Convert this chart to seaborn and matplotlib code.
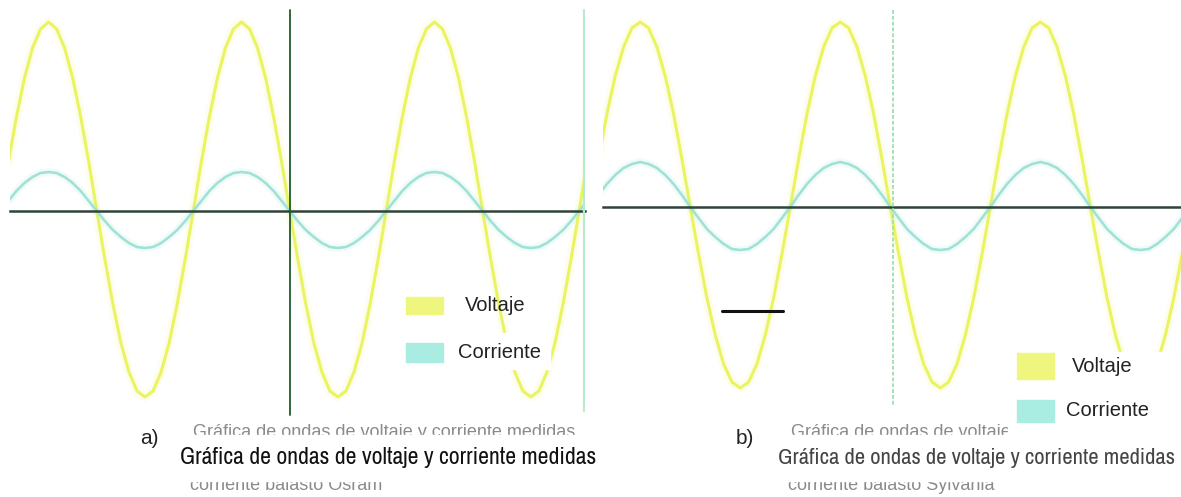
import matplotlib
matplotlib.use("Agg")
import matplotlib.pyplot as plt
from matplotlib import font_manager
from matplotlib.patches import Rectangle
from matplotlib.ticker import MultipleLocator
import seaborn as sns

# Phase grid (degrees) and wave readings (screen units, 0 = axis line)
fase_a = list(range(15, 1096, 15))
voltaje_a = [49, 94, 133, 163, 182, 189, 182, 163, 133, 94, 49, 0, -48, -93, -132, -161, -180, -186, -180, -161, -132, -93, -48, 0,
             49, 94, 133, 163, 182, 189, 182, 163, 133, 94, 49, 0, -48, -93, -132, -161, -180, -186, -180, -161, -132, -93, -48, 0,
             49, 94, 133, 163, 182, 189, 182, 163, 133, 94, 49, 0, -48, -93, -132, -161, -180, -186, -180, -161, -132, -93, -48, 0,
             49]
corriente_a = [10, 20, 28, 34, 38, 39, 38, 34, 28, 20, 10, 0, -10, -19, -26, -32, -36, -37, -36, -32, -26, -19, -10, 0,
               10, 20, 28, 34, 38, 39, 38, 34, 28, 20, 10, 0, -10, -19, -26, -32, -36, -37, -36, -32, -26, -19, -10, 0,
               10, 20, 28, 34, 38, 39, 38, 34, 28, 20, 10, 0, -10, -19, -26, -32, -36, -37, -36, -32, -26, -19, -10, 0,
               10]

fase_b = list(range(15, 1066, 15))
voltaje_b = [48, 93, 131, 160, 179, 185, 179, 160, 131, 93, 48, 0, -47, -91, -128, -157, -175, -181, -175, -157, -128, -91, -47, 0,
             48, 93, 131, 160, 179, 185, 179, 160, 131, 93, 48, 0, -47, -91, -128, -157, -175, -181, -175, -157, -128, -91, -47, 0,
             48, 93, 131, 160, 179, 185, 179, 160, 131, 93, 48, 0, -47, -91, -128, -157, -175, -181, -175, -157, -128, -91, -47]
corriente_b = [12, 23, 32, 39, 43, 45, 43, 39, 32, 23, 12, 0, -11, -22, -30, -37, -42, -43, -42, -37, -30, -22, -11, 0,
               12, 23, 32, 39, 43, 45, 43, 39, 32, 23, 12, 0, -11, -22, -30, -37, -42, -43, -42, -37, -30, -22, -11, 0,
               12, 23, 32, 39, 43, 45, 43, 39, 32, 23, 12, 0, -11, -22, -30, -37, -42, -43, -42, -37, -30, -22, -11]

series = ["Voltaje", "Corriente"]
etiquetas = ["a)", "b)"]
titulo = "Gráfica de ondas de voltaje y corriente medidas"
subtitulos = ["corriente balasto Osram", "corriente balasto Sylvania"]

# marker line in panel b
marca_x = [237, 347]
marca_y = [-104, -104]

AMARILLO = "#eaf462"
CIAN = "#9fe3d6"
EJE = "#2e4438"

sns.set_style("white")
plt.rcParams["font.family"] = ["Liberation Sans", "DejaVu Sans"]

# narrow face for the captions if one is installed
angosta = "Liberation Sans"
for f in font_manager.fontManager.ttflist:
    if "Narrow" in f.name or "Condensed" in f.name:
        angosta = f.name
        break

W, H = 1181, 497
fig = plt.figure(figsize=(W / 100, H / 100), dpi=100)


def fx(px):
    return px / W


def fy(py):
    return 1 - py / H


def panel(x0, x1, fase, volt, corr, xlim, ylim):
    ax = fig.add_axes([fx(x0), fy(420), (x1 - x0) / W, 420 / H])
    ax.patch.set_alpha(0)
    for y, c, lw in [(volt, AMARILLO, 2.2), (corr, CIAN, 1.9)]:
        sns.lineplot(x=fase, y=y, ax=ax, color=c, lw=lw * 3, alpha=0.12, sort=False)
        sns.lineplot(x=fase, y=y, ax=ax, color=c, lw=lw, sort=False)
    ax.set_xlim(*xlim)
    ax.set_ylim(*ylim)
    for s in ["top", "right", "left"]:
        ax.spines[s].set_visible(False)
    ax.spines["bottom"].set_position(("data", 0))
    ax.spines["bottom"].set_color(EJE)
    ax.spines["bottom"].set_linewidth(1.8)
    ax.spines["bottom"].set_zorder(5)
    ax.xaxis.set_major_locator(MultipleLocator(22.5))
    ax.tick_params(axis="x", direction="inout", length=4, width=1, color=EJE, labelbottom=False)
    ax.set_yticks([])
    ax.set_xlabel("")
    ax.set_ylabel("")
    return ax


ax_a = panel(10, 585, fase_a, voltaje_a, corriente_a, (18, 1091), (-209, 211))
ax_a.plot([540, 540], [201, -204], color="#1f5a2c", lw=1.3, zorder=6)
ax_a.plot([1090, 1090], [201, -200], color="#b8ebcb", lw=1.6, zorder=6)

ax_b = panel(603, 1181, fase_b, voltaje_b, corriente_b, (23, 1063), (-213, 207))
ax_b.plot([545, 545], [197, -198], color="#a3e3b6", lw=1.4, ls=(0, (2, 1)), zorder=6)
ax_b.plot(marca_x, marca_y, color="#111111", lw=2.2, zorder=6)


def leyenda(px, ys, txs, fondo):
    fx0, fy0, fw, fh = fondo
    fig.patches.append(Rectangle((fx(fx0), fy(fy0 + fh)), fw / W, fh / H,
                                 transform=fig.transFigure, color="white", zorder=3))
    for nombre, col, (py, th), tx in zip(series, ["#eef67e", "#a9ece2"], ys, txs):
        fig.patches.append(Rectangle((fx(px), fy(py + th)), 37 / W, th / H,
                                     transform=fig.transFigure, color=col, zorder=4))
        fig.text(fx(tx), fy(py + th / 2), nombre, fontsize=14.5, color="#222222",
                 va="center", ha="left", zorder=5)


leyenda(406, [(297, 17), (343, 19)], [465, 458], (400, 333, 150, 36))
leyenda(1017, [(353, 26), (400, 22)], [1072, 1066], (1008, 352, 173, 90))

# captions
titulos = []
for i, (x_lab, x_tit, x_fin, x_box, w_box) in enumerate([(140, 180, 597, 175, 425),
                                                         (736, 778, 1175, 772, 405)]):
    fig.text(fx(x_tit + 13), fy(424), titulo, fontsize=13, color="#8a8a8a",
             va="top", ha="left", zorder=1)
    fig.text(fx(x_tit + 10), fy(477), subtitulos[i], fontsize=13, color="#8a8a8a",
             va="top", ha="left", zorder=1)
    fig.patches.append(Rectangle((fx(x_box), fy(481)), w_box / W, 46 / H,
                                 transform=fig.transFigure, color="white", zorder=2))
    fig.text(fx(x_lab), fy(439), etiquetas[i], fontsize=15, color="#222222",
             va="center", ha="left", zorder=3)
    t = fig.text(fx(x_tit), fy(458), titulo, fontsize=19, family=[angosta, "Liberation Sans"],
                 color="#111111" if i == 0 else "#444444", va="center", ha="left", zorder=3)
    titulos.append((t, x_fin - x_tit))

# fit the caption widths to the reference
fig.canvas.draw()
r = fig.canvas.get_renderer()
for t, ancho in titulos:
    w = t.get_window_extent(renderer=r).width
    t.set_fontsize(t.get_fontsize() * ancho / w)

fig.savefig("out.png", dpi=100, facecolor="white")
